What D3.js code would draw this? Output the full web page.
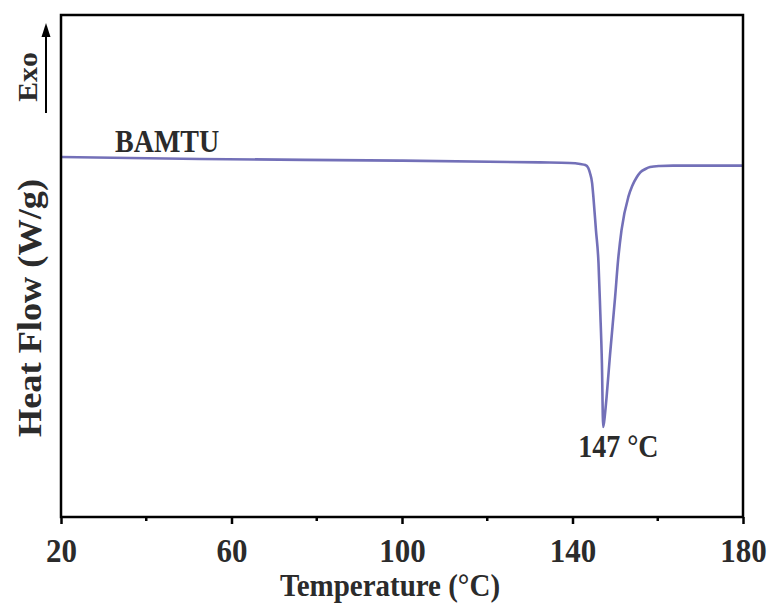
<!DOCTYPE html>
<html>
<head>
<meta charset="utf-8">
<script src="https://cdn.jsdelivr.net/npm/d3@7"></script>
<style>
  body { margin: 0; background: #fff; }
  text { font-family: "Liberation Serif", "Times New Roman", serif; font-weight: bold; fill: #2b2b2b; }
</style>
</head>
<body>
<script>
var width = 775,
    height = 604;

// DSC trace
var temps = [20, 52.6, 99.5, 132.4, 139.4, 141.8, 143.0, 143.7, 144.1, 144.6, 144.9, 145.5, 146.1, 146.5, 146.9, 147.2,
             147.6, 148.0, 148.8, 150.0, 150.7, 151.5, 153.1, 154.0, 155.1, 155.9, 157.1, 158.2, 160.5, 163.6, 180];
var heatFlow = [-0.207, -0.217, -0.225, -0.234, -0.237, -0.242, -0.247, -0.262, -0.287, -0.337, -0.406, -0.571, -0.735, -0.969, -1.233, -1.552,
                -1.492, -1.402, -1.193, -0.904, -0.720, -0.571, -0.406, -0.352, -0.307, -0.284, -0.267, -0.257, -0.252, -0.250, -0.250];
var xTicks = [20, 60, 100, 140, 180];
var xMinor = [40, 80, 120, 160];
var peakT = 147;

var margin = {top: 15, right: 32, bottom: 87, left: 61};

var x = d3.scaleLinear().domain([20, 180]).range([margin.left, width - margin.right]);
var y = d3.scaleLinear().domain([-2.0, 0.5]).range([height - margin.bottom, margin.top]);

var svg = d3.select("body").append("svg")
    .attr("width", width)
    .attr("height", height);

var data = temps.map((t, i) => ({t: t, v: heatFlow[i]}));

var line = d3.line()
    .x(d => x(d.t))
    .y(d => y(d.v))
    .curve(d3.curveMonotoneX);

svg.append("path")
    .datum(data)
    .attr("fill", "none")
    .attr("stroke", "#7370b8")
    .attr("stroke-width", 2.6)
    .attr("d", line);

// frame
svg.append("rect")
    .attr("x", margin.left)
    .attr("y", margin.top)
    .attr("width", width - margin.left - margin.right)
    .attr("height", height - margin.top - margin.bottom)
    .attr("fill", "none")
    .attr("stroke", "#000")
    .attr("stroke-width", 2.5);

// bottom axis
var xAxis = svg.append("g")
    .attr("transform", `translate(0,${height - margin.bottom})`)
    .call(d3.axisBottom(x).tickValues(xTicks).tickSize(7).tickPadding(10).tickSizeOuter(0));
xAxis.select(".domain").remove();
xAxis.selectAll(".tick line").attr("stroke", "#000").attr("stroke-width", 2.5);
xAxis.selectAll(".tick text")
    .attr("font-family", null)
    .attr("fill", null)
    .attr("y", 0)
    .attr("dy", null)
    .attr("transform", "translate(0,45) scale(1,1.1)")
    .style("font-size", "31px");

svg.append("g")
    .selectAll("line")
    .data(xMinor)
    .join("line")
      .attr("x1", d => x(d))
      .attr("x2", d => x(d))
      .attr("y1", height - margin.bottom)
      .attr("y2", height - margin.bottom + 4)
      .attr("stroke", "#000")
      .attr("stroke-width", 2.5);

// axis titles
svg.append("text")
    .attr("transform", "translate(390,596) scale(1,1.1)")
    .attr("text-anchor", "middle")
    .style("font-size", "29px")
    .text("Temperature (°C)");

svg.append("text")
    .attr("transform", "translate(41,308) rotate(-90) scale(1.1,1)")
    .attr("text-anchor", "middle")
    .style("font-size", "33px")
    .text("Heat Flow (W/g)");

// Exo arrow
svg.append("text")
    .attr("transform", "translate(37,77) rotate(-90) scale(1.1,1)")
    .attr("text-anchor", "middle")
    .style("font-size", "27px")
    .text("Exo");

svg.append("line")
    .attr("x1", 46).attr("x2", 46)
    .attr("y1", 113).attr("y2", 34)
    .attr("stroke", "#000")
    .attr("stroke-width", 2);
svg.append("path")
    .attr("d", "M46,23 L41.5,37 L50.5,37 Z")
    .attr("fill", "#000");

// labels
svg.append("text")
    .attr("transform", `translate(${x(20) + 54},152) scale(1,1.1)`)
    .style("font-size", "28px")
    .text("BAMTU");

svg.append("text")
    .attr("transform", `translate(${x(peakT) + 16},457) scale(1,1.1)`)
    .attr("text-anchor", "middle")
    .style("font-size", "28px")
    .text("147 °C");
</script>
</body>
</html>
